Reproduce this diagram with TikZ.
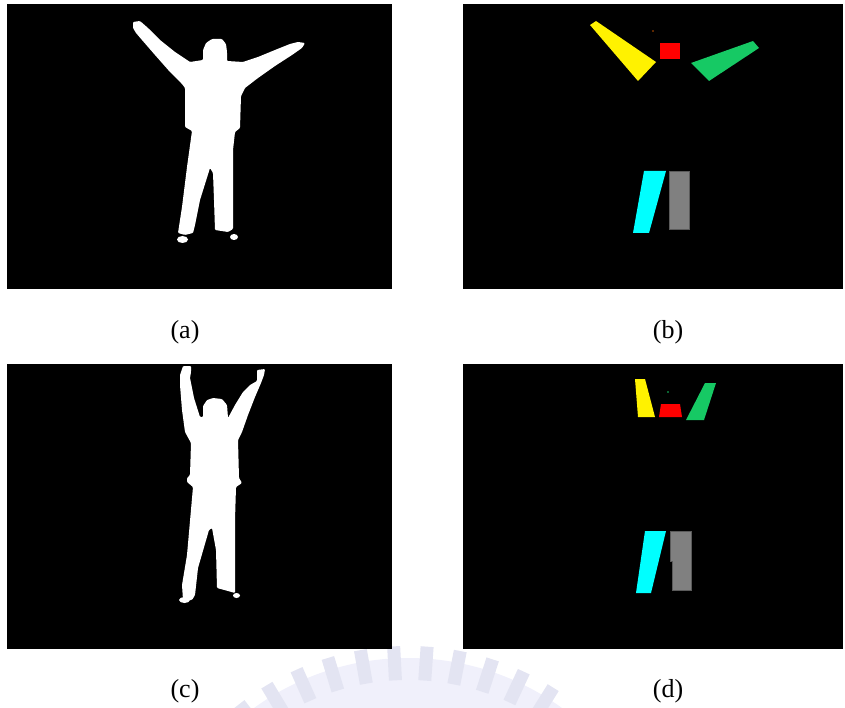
\documentclass[tikz,border=0pt]{standalone}
\usepackage{fontspec}
\setmainfont{Liberation Serif}
\usetikzlibrary{positioning}

\definecolor{limbgreen}{RGB}{22,201,100}
\definecolor{limbcyan}{RGB}{0,255,255}
\definecolor{limbgray}{RGB}{128,128,128}
\definecolor{limbedge}{RGB}{90,90,90}
\definecolor{dotorange}{RGB}{190,80,0}
\definecolor{wmfill}{RGB}{240,240,251}
\definecolor{wmray}{RGB}{227,228,242}

\newcommand{\bodypart}[2]{%
  \fill[#1] #2 -- cycle}
\newcommand{\panellabel}[3]{%
  \node[caption, below=43pt of #1.south, anchor=center, xshift=#2] (cap-#1) {#3}}

\begin{document}
\begin{tikzpicture}[x=1pt, y=-1pt,
    panel/.style={rectangle, fill=black, inner sep=0pt,
    minimum width=#1, minimum height=285pt},
    caption/.style={font=\fontsize{26}{30}\selectfont, inner sep=0pt},
    body/.style={fill=white, rounded corners=1pt}]
  \useasboundingbox (0,0) rectangle (845,708);

  % faint crest behind the lower row
  \begin{scope}
    \clip (0,630) rectangle (845,708);
    \fill[wmfill] (408,920) circle[radius=262];
    \foreach \a in {232,239,...,308}
      \draw[wmray, line width=13pt] (408,920) ++(\a:240) -- ++(\a:34);
  \end{scope}

  \node[panel=385pt] (pa) at (199.5,146.5) {};
  \node[panel=380pt] (pb) at (653,146.5) {};
  \node[panel=385pt] (pc) at (199.5,506) {};
  \node[panel=380pt] (pd) at (653,506) {};

  \panellabel{pa}{-14.5pt}{(a)};
  \panellabel{pb}{15pt}{(b)};
  \panellabel{pc}{-14.5pt}{(c)};
  \panellabel{pd}{15pt}{(d)};

  % (a) arms spread
  \bodypart{body}{(133,22) -- (140,21) -- (148,28) -- (160,40) -- (175,52)
    -- (190,62) -- (203,60) -- (203,50) -- (206,43) -- (212,39) -- (222,39)
    -- (226,44) -- (227,52) -- (227,61) -- (243,62) -- (258,57) -- (275,50)
    -- (290,44) -- (298,42) -- (305,43) -- (302,48) -- (292,55) -- (275,66)
    -- (258,78) -- (245,88) -- (241,96) -- (240,128) -- (235,132)
    -- (233,150) -- (233,200) -- (233,229) -- (228,232) -- (215,230)
    -- (214,200) -- (213,173) -- (210,168) -- (200,200) -- (195,225)
    -- (193,233) -- (185,235) -- (178,233) -- (182,207) -- (187,167)
    -- (192,131) -- (185,127) -- (185,100) -- (185,88) -- (182,84)
    -- (170,72) -- (155,55) -- (142,40) -- (136,33) -- (133,28)};
  \fill[white] (182.5,239.5) ellipse[x radius=5.5, y radius=3.5];
  \fill[white] (234,237) ellipse[x radius=4, y radius=3];

  % (b) limbs
  \bodypart{yellow}{(590,25) -- (596,21) -- (656,62) -- (638,81)};
  \bodypart{limbgreen}{(691,63) -- (753,41) -- (759,48) -- (709,81)};
  \fill[red] (660,43) rectangle (680,59);
  \fill[dotorange] (653,31) circle[radius=0.8];
  \bodypart{limbcyan}{(644,171) -- (666,171) -- (649,233) -- (633,233)};
  \draw[limbedge, fill=limbgray, line width=0.6pt] (669,171) rectangle (689,229);

  % (c) arms raised
  \bodypart{body}{(183,366) -- (191,366) -- (191,372) -- (190,378)
    -- (194,398) -- (200,417) -- (203,417) -- (203,406) -- (207,400)
    -- (213,398) -- (222,399) -- (227,405) -- (228,418) -- (235,405)
    -- (243,392) -- (250,385) -- (257,381) -- (257,370) -- (265,369)
    -- (264,375) -- (261,383) -- (255,397) -- (248,415) -- (242,432)
    -- (238,440) -- (239,478) -- (242,483) -- (236,487) -- (235,520)
    -- (235,593) -- (228,591) -- (217,588) -- (216,550) -- (212,528)
    -- (209,530) -- (198,568) -- (195,595) -- (192,600) -- (183,600)
    -- (182,585) -- (187,555) -- (193,487) -- (187,482) -- (187,478)
    -- (190,475) -- (191,443) -- (185,432) -- (182,410) -- (180,385)
    -- (180,375)};
  \fill[white] (184.5,600) ellipse[x radius=5.5, y radius=3];
  \fill[white] (236.5,595.5) ellipse[x radius=3.5, y radius=2.5];

  % (d) limbs
  \bodypart{yellow}{(635,379) -- (645,379) -- (655,417) -- (638,417)};
  \bodypart{limbgreen}{(705,383) -- (716,383) -- (704,420) -- (686,420)};
  \bodypart{red}{(661,404) -- (680,404) -- (682,417) -- (659,417)};
  \fill[limbgreen] (668,392) circle[radius=0.8];
  \bodypart{limbcyan}{(645,531) -- (666,531) -- (651,593) -- (636,593)};
  \draw[limbedge, fill=limbgray, line width=0.6pt] (670,531) -- (691,531)
    -- (691,590) -- (672,590) -- (672,561) -- (670,561) -- cycle;
\end{tikzpicture}
\end{document}
